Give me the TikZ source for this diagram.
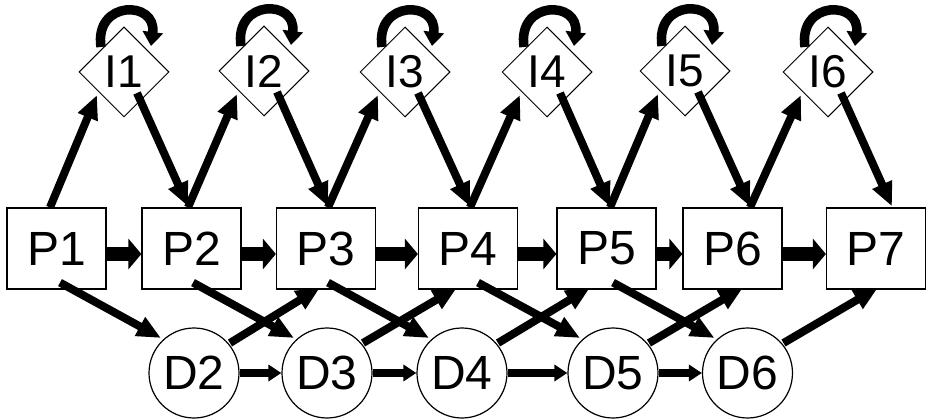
\documentclass[tikz,border=0pt]{standalone}
\usepackage{fontspec}
\setmainfont{Liberation Sans}
\usetikzlibrary{arrows.meta,shapes.geometric,calc}
\begin{document}
\begin{tikzpicture}[x=1pt,y=-1pt,
  pbox/.style={draw,line width=1.2pt,rectangle,minimum width=99pt,minimum height=81pt,inner sep=0pt,font=\fontsize{48}{48}\selectfont},
  dcirc/.style={draw,line width=1.2pt,circle,minimum size=90pt,inner sep=0pt,font=\fontsize{48}{48}\selectfont},
  idiam/.style={draw,line width=1pt,diamond,aspect=1,minimum width=90pt,minimum height=90pt,inner sep=0pt,font=\fontsize{46}{46}\selectfont},
  bigarrow/.style={line width=14pt,-{Triangle[width=30pt,length=13pt]}},
  diagarrow/.style={line width=8pt,-{Triangle[width=20pt,length=24pt]}},
  smallarrow/.style={line width=7pt,-{Triangle[width=16pt,length=13pt]}},
  looparrow/.style={line width=9.5pt,-{Triangle[width=20pt,length=14pt]}},
]
\useasboundingbox (0,0) rectangle (926,419);
% process boxes
\node[pbox] (P1) at (56.5,248.5) {P1};
\node[pbox] (P2) at (191.5,248.5) {P2};
\node[pbox] (P3) at (326,248.5) {P3};
\node[pbox] (P4) at (468,248.5) {P4};
\node[pbox] (P5) at (606.5,248.5) {P5};
\node[pbox] (P6) at (732.5,248.5) {P6};
\node[pbox] (P7) at (876,248.5) {P7};
% circles
\node[dcirc] (D2) at (194,373) {D2};
\node[dcirc] (D3) at (327,373) {D3};
\node[dcirc] (D4) at (462,373) {D4};
\node[dcirc] (D5) at (613,373) {D5};
\node[dcirc] (D6) at (747.5,373) {D6};
% diamonds
\node[idiam] (I1) at (124,72) {I1};
\node[idiam] (I2) at (264,71) {I2};
\node[idiam] (I3) at (405,72) {I3};
\node[idiam] (I4) at (547,72) {I4};
\node[idiam] (I5) at (685,71) {I5};
\node[idiam] (I6) at (828,72) {I6};
% P -> P
\foreach \a/\b in {1/2,2/3,3/4,4/5,5/6,6/7}
  \draw[bigarrow] ($(P\a.east)+(0,5.5)$) -- ($(P\b.west)+(0,5.5)$);
% P -> I -> P
\foreach \a/\b/\o/\q in {1/2/-6.5/-3.5, 2/3/-3.5/2, 3/4/2/2, 4/5/2/3.5, 5/6/3.5/17.5, 6/7/17.5/16} {
  \draw[diagarrow] ($(P\a.north)+(\o,0)$) -- ($(I\a.center)+(-27,23)$);
  \draw[diagarrow] ($(I\a.center)+(13,21)$) -- ($(P\b.north)+(\q,-1)$);
}
% self loops
\foreach \k in {1,...,6}
  \draw[looparrow] ($(I\k.center)+(-23,-25)$) .. controls ($(I\k.center)+(-30,-72)$) and ($(I\k.center)+(33,-72)$) .. ($(I\k.center)+(27,-26)$);
% P -> D
\foreach \a/\d/\o in {1/2/3.5, 2/3/1.5, 3/4/2, 4/5/10, 5/6/6.5}
  \draw[diagarrow] ($(P\a.south)+(\o,-7)$) -- ($(D\d.center)+(-33,-35)$);
% D -> P
\foreach \d/\b/\o in {2/3/-6, 3/4/-11, 4/5/-16.5, 5/6/10.5, 6/7/2}
  \draw[diagarrow] ($(D\d.center)+(36,-30)$) -- ($(P\b.south)+(\o,-2)$);
% D -> D
\foreach \a/\b in {2/3,3/4,4/5,5/6}
  \draw[smallarrow] (D\a.east) -- (D\b.west);
\end{tikzpicture}
\end{document}
